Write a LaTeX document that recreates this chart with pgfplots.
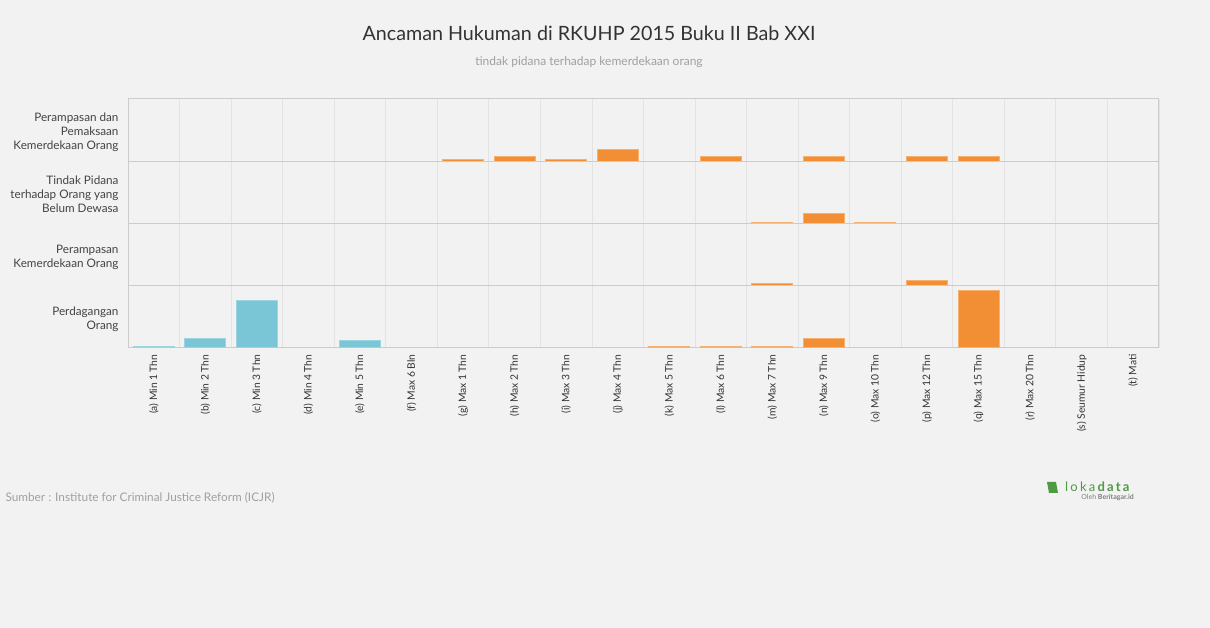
\documentclass[border=0pt]{standalone}
\usepackage{pgfplots}
\pgfplotsset{compat=1.18}
\usepackage{fontspec}
\setmainfont{Lato}
\definecolor{bg}{HTML}{F2F2F2}
\definecolor{minblue}{HTML}{7BC6D6}
\definecolor{maxorange}{HTML}{F28F34}
\definecolor{framegray}{HTML}{CCCCCC}
\definecolor{gridgray}{HTML}{E3E3E3}
\definecolor{textdark}{HTML}{333333}
\definecolor{textmid}{HTML}{444444}
\definecolor{textlight}{HTML}{A0A0A0}
\definecolor{lokagreen}{HTML}{4E9A45}

\pgfplotsset{
  panel/.style={
    at={(128pt,#1)}, anchor=south west,
    scale only axis, width=1031pt, height=62.25pt,
    xmin=-0.5, xmax=19.5, ymin=0, ymax=13,
    ybar, bar width=41pt,
    axis line style={framegray, line width=1pt},
    xtick={0,...,19}, xticklabels={},
    minor xtick={-0.5,0.5,...,19.5},
    xminorgrids=true,
    minor grid style={gridgray, line width=0.8pt},
    major tick length=0pt, minor tick length=0pt,
    ytick=\empty,
  },
  minbar/.style={fill=minblue, draw=minblue!75!white, line width=1pt, bar shift=0pt},
  maxbar/.style={fill=maxorange, draw=maxorange!70!white, line width=1pt, bar shift=0pt},
}
\tikzset{plab/.style={anchor=east, align=right, text=textmid,
    font=\fontsize{11.7}{14}\selectfont}}
\newcommand{\ls}{\hspace{2.2pt}}

\begin{document}
\begin{tikzpicture}[x=1pt,y=1pt]
\fill[bg] (0,0) rectangle (1210,628);

\node[text=textdark, font=\fontsize{19.7}{23}\selectfont] at (589,595) {Ancaman Hukuman di RKUHP 2015 Buku II Bab XXI};
\node[text=textlight, font=\fontsize{12}{14}\selectfont] at (589,566) {tindak pidana terhadap kemerdekaan orang};
\node[text=textlight, font=\fontsize{11.8}{13}\selectfont, anchor=west] at (2,130) {Sumber : Institute for Criminal Justice Reform (ICJR)};

% logo
\fill[lokagreen] (1049,135) -- (1058,135) -- (1056,146) -- (1047,146) -- cycle;
\node[text=lokagreen, font=\fontsize{13}{15}\selectfont, anchor=west, inner sep=0pt] at (1065,141) {l\ls o\ls k\ls a\ls\textbf{d\ls a\ls t\ls a}};
\node[text=gray, font=\fontsize{7}{8}\selectfont, anchor=east, inner sep=0pt] at (1134,130) {Oleh \textbf{Beritagar.id}};

% panel 1 (top)
\begin{axis}[panel=466.75pt, name=p1]
\addplot[maxbar] coordinates {(6,0.35) (7,1) (8,0.35) (9,2.5) (11,1) (13,1) (15,1) (16,1)};
\end{axis}

% panel 2
\begin{axis}[panel=404.5pt, name=p2]
\addplot[maxbar] coordinates {(12,0.3) (13,2) (14,0.3)};
\end{axis}

% panel 3
\begin{axis}[panel=342.25pt, name=p3]
\addplot[maxbar] coordinates {(12,0.4) (15,1)};
\end{axis}

% panel 4 (bottom, with labels)
\begin{axis}[panel=280pt, name=p4,
    xticklabels={(a) Min 1 Thn,(b) Min 2 Thn,(c) Min 3 Thn,(d) Min 4 Thn,(e) Min 5 Thn,
      (f) Max 6 Bln,(g) Max 1 Thn,(h) Max 2 Thn,(i) Max 3 Thn,(j) Max 4 Thn,
      (k) Max 5 Thn,(l) Max 6 Thn,(m) Max 7 Thn,(n) Max 9 Thn,(o) Max 10 Thn,
      (p) Max 12 Thn,(q) Max 15 Thn,(r) Max 20 Thn,(s) Seumur Hidup,(t) Mati},
    xticklabel style={rotate=90, anchor=east, text=textdark,
      font=\fontsize{10.3}{11}\selectfont},
    xticklabel shift=3pt]
\addplot[minbar] coordinates {(0,0.4) (1,2) (2,10) (4,1.5)};
\addplot[maxbar] coordinates {(10,0.4) (11,0.4) (12,0.4) (13,2) (16,12)};
\end{axis}

\node[plab] at (122,496) {Perampasan dan\\Pemaksaan\\Kemerdekaan Orang};
\node[plab] at (122,434) {Tindak Pidana\\terhadap Orang yang\\Belum Dewasa};
\node[plab] at (122,371) {Perampasan\\Kemerdekaan Orang};
\node[plab] at (122,309) {Perdagangan\\Orang};
\end{tikzpicture}
\end{document}
